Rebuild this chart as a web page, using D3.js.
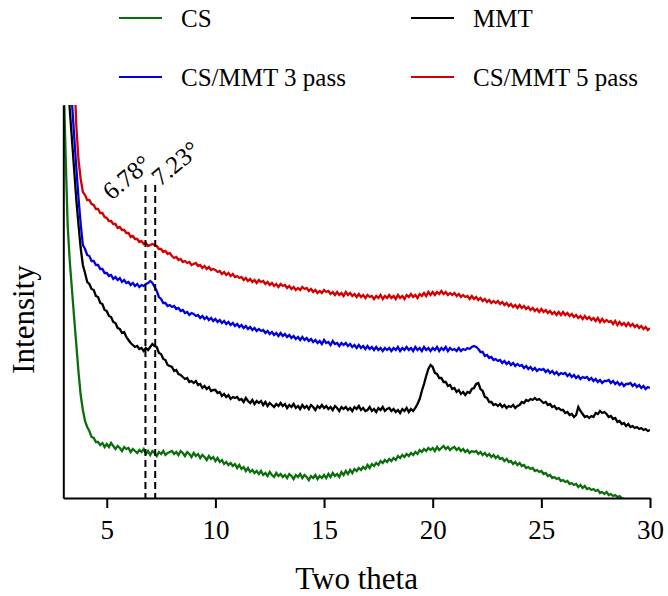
<!DOCTYPE html>
<html>
<head>
<meta charset="utf-8">
<script src="https://cdn.jsdelivr.net/npm/d3@7"></script>
<style>
  body { margin: 0; background: #fff; }
  svg { display: block; }
  text { font-family: "Liberation Serif", "Times New Roman", serif; fill: #000; }
</style>
</head>
<body>
<svg id="chart" width="668" height="596"></svg>
<script>
// XRD scans: intensity (a.u.) sampled every 0.1° of 2θ starting at 3.0°
const angleStart = 3.0;
const angleStep = 0.1;

const seriesNames = ["CS", "MMT", "CS/MMT 3 pass", "CS/MMT 5 pass"];
const seriesColors = ["#0a6e0a", "#000000", "#0000dc", "#d40000"];

// chitosan (scan ends at 28.8°)
const csIntensity = [
  430,348,273,236,208,180,153,126,103,88,
  77,71,67,61,60,56,56,53,55,51,
  54,51,55,52,49,52,50,47,51,49,
  50,46,49,47,45,48,46,49,44,47,
  43,47,45,42,46,44,47,43,45,46,
  47,44,46,43,47,45,42,46,44,41,
  45,42,44,40,43,41,38,42,39,41,
  37,40,36,38,34,36,33,35,32,34,
  30,33,29,31,27,30,26,28,25,27,
  24,27,23,25,22,26,23,21,25,22,
  24,21,23,20,24,22,19,23,21,24,
  20,23,21,18,22,20,23,19,22,20,
  23,20,24,21,25,22,24,21,26,23,
  27,24,28,25,29,27,30,28,31,29,
  33,30,34,32,35,33,37,35,38,36,
  39,37,40,38,42,40,43,41,44,42,
  45,43,46,44,48,46,49,47,50,48,
  50,47,51,48,50,52,49,51,48,50,
  51,48,50,47,49,46,48,45,47,46,
  47,44,46,43,45,42,44,41,43,40,
  42,39,40,37,39,36,37,34,36,33,
  35,32,33,30,31,29,30,27,28,26,
  27,24,25,22,23,20,21,19,20,17,
  18,16,17,14,15,13,14,11,13,10,
  12,9,10,8,9,7,8,5,6,4,
  6,3,4,2,3,1,2,0,-1
];

// montmorillonite
const mmtIntensity = [
  450,450,420,388,358,328,298,273,250,233,
  225,216,214,209,208,202,201,195,194,188,
  187,182,181,176,175,170,169,165,166,161,
  158,155,153,151,152,149,150,147,150,148,
  151,154,152,151,145,144,139,138,133,132,
  131,127,128,124,123,121,119,120,116,117,
  115,117,113,114,110,112,109,111,107,108,
  108,105,106,102,104,101,103,99,101,100,
  101,98,99,96,100,97,95,98,94,97,
  95,97,93,96,92,95,93,91,94,92,
  95,92,94,90,93,91,94,90,92,89,
  93,90,92,89,93,91,88,92,90,93,
  90,92,89,91,88,92,90,87,91,89,
  91,88,90,87,91,89,92,88,90,87,
  88,91,87,89,86,90,88,91,87,89,
  90,87,89,86,88,85,89,87,90,86,
  89,87,90,94,99,107,114,122,129,133,
  131,125,124,120,120,116,116,112,113,109,
  110,106,108,104,106,103,106,105,109,110,
  114,115,109,107,101,100,96,96,93,94,
  92,94,91,93,90,92,91,93,90,92,
  93,96,95,98,97,99,98,100,98,99,
  97,95,96,93,94,91,92,89,90,88,
  88,85,86,83,84,81,83,91,87,84,
  81,82,80,82,81,85,84,87,85,86,
  84,81,82,79,80,76,77,74,75,72,
  74,71,72,70,71,69,70,68,69,67,
  68
];

// chitosan / montmorillonite, 3 passes
const pass3Intensity = [
  450,450,450,440,395,362,330,300,274,253,
  249,243,242,237,237,233,233,229,229,225,
  225,222,223,219,221,218,220,216,218,215,
  216,213,215,212,214,211,213,212,214,215,
  217,215,211,207,201,199,195,195,192,193,
  191,192,189,190,187,188,185,186,183,185,
  184,182,183,180,182,179,181,178,180,177,
  179,176,178,175,177,174,176,173,175,172,
  174,171,173,170,172,169,171,168,170,167,
  169,167,168,165,167,164,166,163,165,162,
  165,162,164,161,163,160,162,159,161,158,
  161,158,160,157,159,156,158,155,157,154,
  158,155,156,153,157,154,155,152,155,153,
  155,152,154,151,153,150,153,150,152,149,
  152,149,151,148,151,148,150,147,150,148,
  150,147,150,148,151,147,150,148,151,148,
  150,147,151,148,150,147,151,148,150,147,
  150,148,151,147,150,148,151,147,150,148,
  149,147,150,147,149,148,150,149,151,152,
  151,149,146,146,142,143,140,141,138,139,
  137,138,135,137,134,136,133,135,132,134,
  132,133,130,132,129,131,128,130,127,129,
  128,129,126,128,125,127,124,126,123,125,
  124,125,122,124,121,123,120,122,119,121,
  120,121,118,120,117,119,116,118,115,117,
  117,118,115,117,114,116,113,115,112,114,
  114,115,112,114,111,113,110,112,109,111,
  110
];

// chitosan / montmorillonite, 5 passes
const pass5Intensity = [
  450,450,450,450,450,425,372,338,319,306,
  303,298,298,294,293,289,289,285,285,281,
  280,277,277,274,274,270,271,268,268,265,
  265,261,262,259,259,256,257,254,255,252,
  253,254,253,252,249,249,246,247,244,245,
  242,240,241,238,239,236,237,235,236,233,
  234,235,232,233,230,232,229,231,228,229,
  228,226,227,224,226,223,225,222,224,221,
  222,220,221,218,220,217,219,216,218,215,
  218,216,217,214,216,213,215,212,214,211,
  214,212,213,210,212,209,211,208,210,208,
  211,209,210,207,209,206,208,205,207,205,
  208,206,207,204,206,203,206,203,205,202,
  206,203,205,202,204,201,204,201,203,200,
  203,201,202,199,202,200,203,199,202,200,
  203,200,202,199,203,200,202,199,203,201,
  204,201,203,200,204,202,205,202,206,203,
  206,203,206,204,207,204,206,203,205,203,
  205,202,204,201,203,201,202,199,202,199,
  201,198,200,197,199,196,198,195,197,195,
  197,194,196,193,195,192,194,191,193,190,
  193,190,192,189,191,188,190,187,189,186,
  189,186,188,185,187,184,186,183,186,183,
  186,183,185,182,184,181,183,180,182,179,
  182,179,181,178,180,177,180,176,179,176,
  178,176,177,174,177,173,176,173,175,172,
  175,172,174,171,173,170,172,169,171,168,
  170
];

const xTicks = [5, 10, 15, 20, 25, 30];
const basalPeaks = [6.78, 7.23];
const basalLabels = ["6.78°", "7.23°"];
const basalMarkerTop = 313;   // intensity where the dashed markers stop

const xDomain = [3, 30];
const yDomain = [0, 393];

// ---------- layout ----------
const svg = d3.select("#chart");
const plot = { left: 63.3, right: 650, top: 105, bottom: 498 };

const x = d3.scaleLinear().domain(xDomain).range([plot.left, plot.right]);
const y = d3.scaleLinear().domain(yDomain).range([plot.bottom, plot.top]);

svg.append("defs").append("clipPath").attr("id", "plot-clip")
  .append("rect")
  .attr("x", plot.left).attr("y", plot.top)
  .attr("width", plot.right - plot.left).attr("height", plot.bottom - plot.top);

// ---------- traces ----------
const allSeries = [csIntensity, mmtIntensity, pass3Intensity, pass5Intensity];
const line = d3.line()
  .x((d, i) => x(angleStart + i * angleStep))
  .y(d => y(d));

const traces = svg.append("g").attr("clip-path", "url(#plot-clip)");
allSeries.forEach((values, k) => {
  traces.append("path")
    .datum(values)
    .attr("fill", "none")
    .attr("stroke", seriesColors[k])
    .attr("stroke-width", 2.3)
    .attr("stroke-linejoin", "miter")
    .attr("d", line);
});

// ---------- basal-spacing markers ----------
const markers = svg.append("g");
basalPeaks.forEach(p => {
  markers.append("line")
    .attr("x1", x(p)).attr("x2", x(p))
    .attr("y1", y(basalMarkerTop)).attr("y2", y(0))
    .attr("stroke", "#000").attr("stroke-width", 2)
    .attr("stroke-dasharray", "7,4");
});
const labelOffsets = [[-34, 16], [5, 2]];
basalPeaks.forEach((p, k) => {
  const lx = x(p) + labelOffsets[k][0];
  const ly = y(basalMarkerTop) + labelOffsets[k][1];
  markers.append("text")
    .attr("transform", `translate(${lx},${ly}) rotate(-40)`)
    .attr("font-size", 25)
    .text(basalLabels[k]);
});

// ---------- axes ----------
const xAxis = svg.append("g")
  .attr("transform", `translate(0,${plot.bottom})`)
  .call(d3.axisBottom(x).tickValues(xTicks).tickSize(10).tickSizeOuter(0).tickPadding(12).tickFormat(d3.format("d")));
xAxis.select(".domain").attr("stroke-width", 2);
xAxis.selectAll(".tick line").attr("stroke-width", 2);
xAxis.selectAll(".tick text").attr("font-size", 27).attr("font-family", "Liberation Serif, Times New Roman, serif");

const yAxis = svg.append("g")
  .attr("transform", `translate(${plot.left},0)`)
  .call(d3.axisLeft(y).tickValues([]).tickSizeOuter(0));
yAxis.select(".domain").attr("stroke-width", 2);

svg.append("text")
  .attr("x", (plot.left + plot.right) / 2).attr("y", 589)
  .attr("text-anchor", "middle").attr("font-size", 31)
  .text("Two theta");

svg.append("text")
  .attr("transform", `translate(34,${(plot.top + plot.bottom) / 2 + 18}) rotate(-90)`)
  .attr("text-anchor", "middle").attr("font-size", 31)
  .text("Intensity");

// ---------- legend ----------
const legendCols = [119, 411];
const legendRows = [18, 77];
const legendOrder = [0, 1, 2, 3];
legendOrder.forEach((k, idx) => {
  const lx = legendCols[idx % 2];
  const ly = legendRows[Math.floor(idx / 2)];
  const g = svg.append("g").attr("transform", `translate(${lx},${ly})`);
  g.append("line").attr("x1", 0).attr("x2", 43).attr("y1", 0).attr("y2", 0)
    .attr("stroke", seriesColors[k]).attr("stroke-width", 2);
  g.append("text").attr("x", 62).attr("y", 9).attr("font-size", 25)
    .text(seriesNames[k]);
});
</script>
</body>
</html>
